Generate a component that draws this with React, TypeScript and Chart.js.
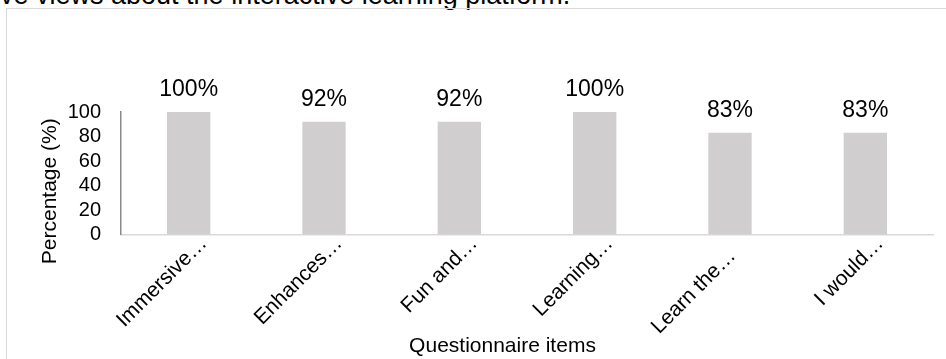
import React, { useEffect, useRef } from "react";
import { Chart, registerables } from "chart.js";

Chart.register(...registerables);

const categories = ["Immersive…", "Enhances…", "Fun and…", "Learning…", "Learn the…   ", "I would…"];
const percentages = [100, 92, 92, 100, 83, 83];
const yTicks = [0, 20, 40, 60, 80, 100];
const captionText = "ve views about the interactive learning platform.";
const yTitle = "Percentage (%)";
const xTitle = "Questionnaire items";

const FONT = "'Liberation Sans', Arial, sans-serif";

const labelPlugin = {
  id: "valueLabels",
  afterDatasetsDraw(chart: any) {
    const ctx = chart.ctx;
    const meta = chart.getDatasetMeta(0);
    const ca = chart.chartArea;
    ctx.save();
    ctx.fillStyle = "#000";
    ctx.font = `23px ${FONT}`;
    ctx.textAlign = "center";
    ctx.textBaseline = "alphabetic";
    meta.data.forEach((bar: any, i: number) => {
      ctx.fillText(`${percentages[i]}%`, bar.x, bar.y - 16);
    });
    // x axis title
    ctx.font = `21px ${FONT}`;
    ctx.textBaseline = "middle";
    ctx.fillText(xTitle, (ca.left + ca.right) / 2 - 24.5, ca.bottom + 111.5);
    // y axis title
    ctx.translate(ca.left - 70.5, (ca.top + ca.bottom) / 2 + 18);
    ctx.rotate(-Math.PI / 2);
    ctx.fillText(yTitle, 0, 0);
    ctx.restore();
  },
};

export default function App() {
  const ref = useRef<HTMLCanvasElement | null>(null);

  useEffect(() => {
    if (!ref.current) return;
    const chart = new Chart(ref.current, {
      type: "bar",
      data: {
        labels: categories,
        datasets: [
          {
            data: percentages,
            backgroundColor: "#d0cece",
            borderWidth: 0,
            categoryPercentage: 1,
            barPercentage: 0.32,
          },
        ],
      },
      options: {
        responsive: false,
        animation: false,
        layout: { padding: { top: 104, left: 0, right: 65, bottom: 4.5 } },
        plugins: {
          legend: { display: false },
          tooltip: { enabled: false },
          title: { display: false },
        },
        scales: {
          x: {
            grid: { display: false, drawTicks: false },
            border: { display: true, color: "#d9d9d9", width: 1.5 },
            ticks: {
              color: "#000",
              font: { family: FONT, size: 21 },
              minRotation: 45,
              maxRotation: 45,
              autoSkip: false,
              padding: -3,
              labelOffset: 15,
            },
            afterFit: (scale: any) => {
              scale.height = 120;
            },
          },
          y: {
            min: 0,
            max: 100,
            grid: { display: false, drawTicks: false },
            border: { display: true, color: "#898989", width: 1.5 },
            ticks: {
              color: "#000",
              font: { family: FONT, size: 20 },
              padding: 20,
              autoSkip: false,
            },
            afterBuildTicks: (scale: any) => {
              scale.ticks = yTicks.map((v) => ({ value: v }));
            },
            afterFit: (scale: any) => {
              scale.width = 114;
            },
          },
        },
      },
      plugins: [labelPlugin],
    });
    return () => chart.destroy();
  }, []);

  return (
    <div
      style={{
        position: "absolute",
        left: 0,
        top: 0,
        width: 946,
        height: 359,
        overflow: "hidden",
        background: "#fff",
        fontFamily: FONT,
      }}
    >
      <div
        style={{
          position: "absolute",
          left: 0,
          top: -18,
          fontSize: 27,
          lineHeight: "27px",
          color: "#000",
          whiteSpace: "nowrap",
        }}
      >
        {captionText}
      </div>
      <div
        style={{
          position: "absolute",
          left: 6,
          top: 8,
          width: 991,
          height: 400,
          border: "1.5px solid #d9d9d9",
          boxSizing: "border-box",
        }}
      />
      <canvas
        ref={ref}
        width={991}
        height={351}
        style={{ position: "absolute", left: 7, top: 8, width: 991, height: 351 }}
      />
    </div>
  );
}
